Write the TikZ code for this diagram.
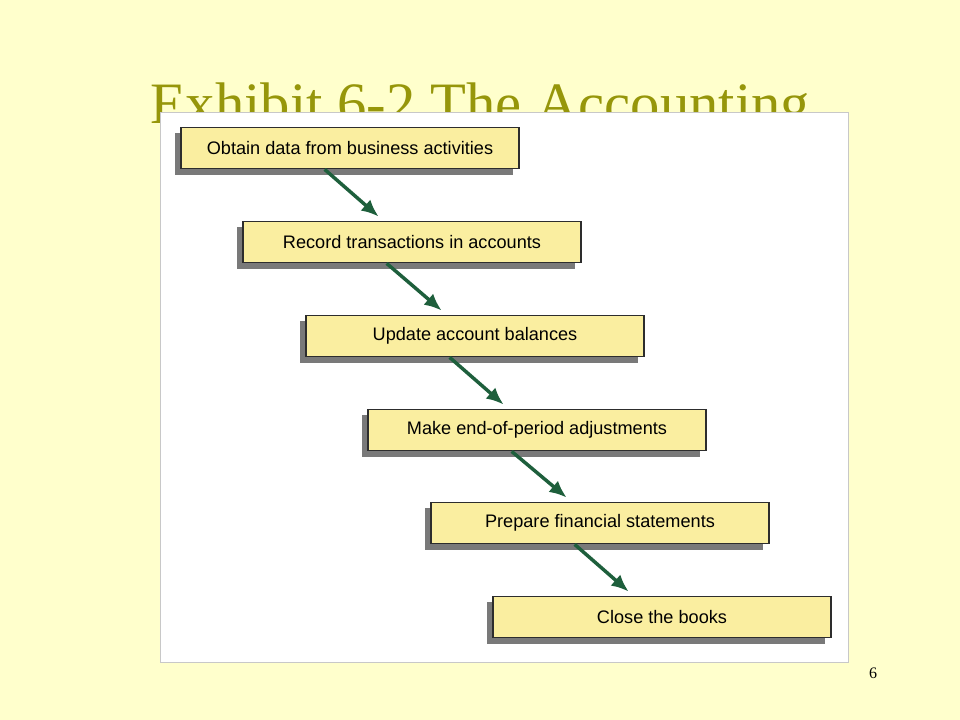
\documentclass[tikz,border=0pt]{standalone}
\usepackage{fontspec}
\setmainfont{Liberation Serif}
\setsansfont{Liberation Sans}
\usetikzlibrary{arrows.meta,shadows}

\definecolor{slidebg}{RGB}{255,255,204}
\definecolor{titleolive}{RGB}{150,150,10}
\definecolor{boxfill}{RGB}{250,238,160}
\definecolor{boxline}{RGB}{45,45,45}
\definecolor{arrowgreen}{RGB}{30,95,60}
\definecolor{panelline}{RGB}{200,200,200}

\begin{document}
\begin{tikzpicture}
  [x=0.75pt,y=-0.75pt,
   stepbox/.style={draw=boxline,line width=1.1pt,fill=boxfill,
     minimum width=253.5pt,minimum height=31pt,inner sep=0pt,
     font=\sffamily\fontsize{13.6}{15}\selectfont,
     drop shadow={shadow xshift=-4.5pt,shadow yshift=-4.5pt,fill=gray!95!black,opacity=1}},
   flow/.style={draw=arrowgreen,line width=2.6pt,-{Latex[length=13pt,width=11pt]}}]
  \fill[slidebg] (0,0) rectangle (960,720);
  \node[anchor=base,text=titleolive,font=\fontsize{44}{48}\selectfont] (title) at (480,124) {Exhibit 6-2 The Accounting};
  \draw[panelline,fill=white] (160,112) rectangle (848,662);

  \node[stepbox] (n1) at (350,148)  {Obtain data from business activities};
  \node[stepbox] (n2) at (412,242)  {Record transactions in accounts};
  \node[stepbox] (n3) at (475,336)  {Update account balances};
  \node[stepbox] (n4) at (537,430)  {Make end-of-period adjustments};
  \node[stepbox] (n5) at (600,523)  {Prepare financial statements};
  \node[stepbox] (n6) at (662,617)  {Close the books};

  \foreach \from/\to in {n1/n2,n2/n3,n3/n4,n4/n5,n5/n6}
    \draw[flow] ([xshift=-19pt]\from.south) -- ([xshift=-25pt,yshift=3pt]\to.north);

  \node[font=\fontsize{12}{14}\selectfont] (page) at (873,673) {6};
\end{tikzpicture}
\end{document}
